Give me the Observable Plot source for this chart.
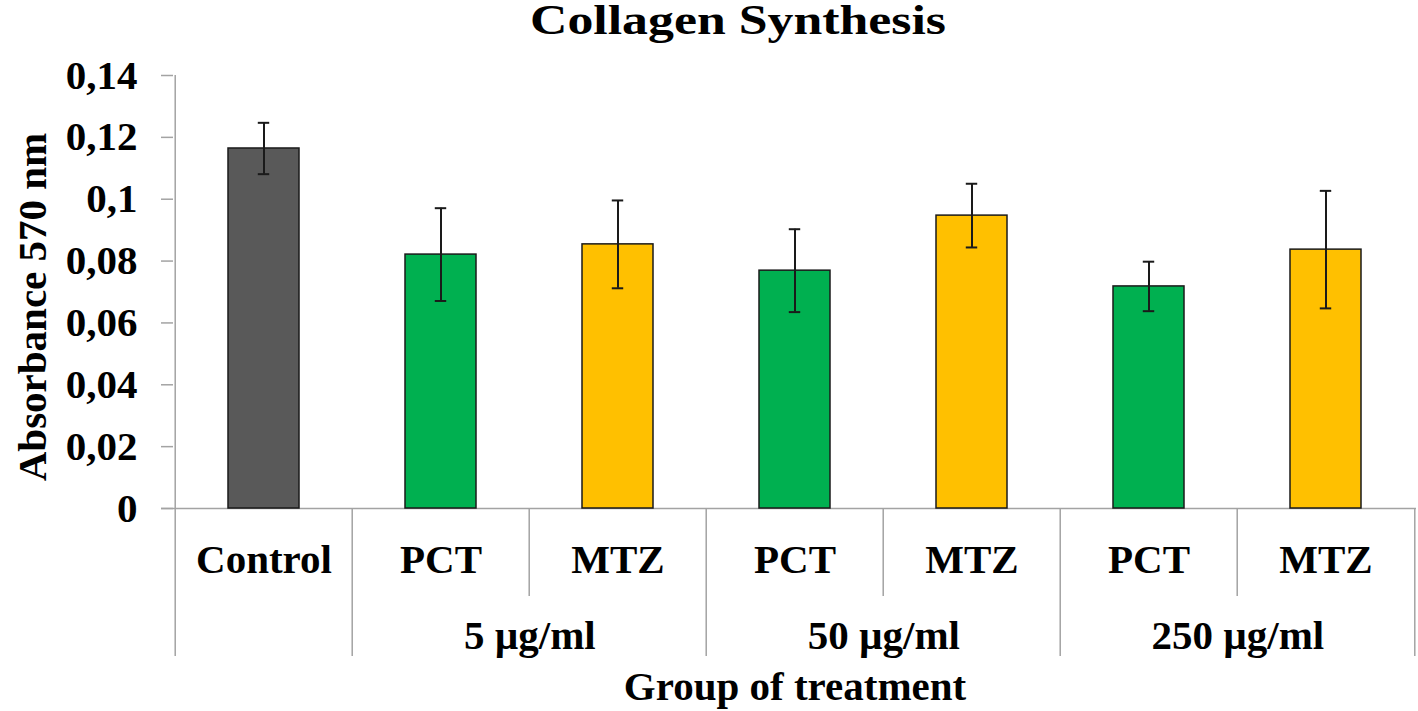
<!DOCTYPE html>
<html>
<head>
<meta charset="utf-8">
<script src="https://cdn.jsdelivr.net/npm/d3@7"></script>
<script src="https://cdn.jsdelivr.net/npm/@observablehq/plot@0.6"></script>
<style>
  html, body { margin: 0; padding: 0; background: #fff; }
  #chart svg { display: block; font-family: "Liberation Serif", "Times New Roman", serif; }
</style>
</head>
<body>
<div id="chart"></div>
<script>
// ---- data ----
const keys = ["Control", "PCT 5", "MTZ 5", "PCT 50", "MTZ 50", "PCT 250", "MTZ 250"];
const treatments = ["Control", "PCT", "MTZ", "PCT", "MTZ", "PCT", "MTZ"];
const doses = [null, "5 µg/ml", "5 µg/ml", "50 µg/ml", "50 µg/ml", "250 µg/ml", "250 µg/ml"];
const absorbance = [0.1164, 0.0821, 0.0854, 0.0769, 0.0947, 0.0718, 0.0837];
const errors = [0.0083, 0.0150, 0.0142, 0.0134, 0.0103, 0.0080, 0.0190];
const colors = ["#595959", "#00B050", "#FFC000", "#00B050", "#FFC000", "#00B050", "#FFC000"];
const doseGroups = ["5 µg/ml", "50 µg/ml", "250 µg/ml"];
const yTicks = [0, 0.02, 0.04, 0.06, 0.08, 0.1, 0.12, 0.14];
const title = "Collagen Synthesis";
const yLabel = "Absorbance 570 nm";
const xLabel = "Group of treatment";

const data = keys.map((k, i) => ({
  key: k, treatment: treatments[i], dose: doses[i],
  value: absorbance[i], err: errors[i], color: colors[i]
}));
// first key of each dose group (group label spans two bands)
const groups = doseGroups.map(g => ({label: g, first: keys[doses.indexOf(g)]}));
const label = Object.fromEntries(keys.map((k, i) => [k, treatments[i]]));

// ---- layout ----
const W = 1418, H = 711;
const mL = 173, mR = 2, mT = 75, mB = 203;
const bw = (W - mL - mR) / keys.length;
const gray = "#a3a3a3";
const font = 41;

const fmt = d => String(+d.toFixed(2)).replace(".", ",");

const fullSeps = ["PCT 5", "PCT 50", "PCT 250"];
const shortSeps = ["MTZ 5", "MTZ 50", "MTZ 250"];

const plot = Plot.plot({
  width: W, height: H,
  marginLeft: mL, marginRight: mR, marginTop: mT, marginBottom: mB,
  style: {fontFamily: "'Liberation Serif', 'Times New Roman', serif", background: "#fff", overflow: "visible"},
  x: {type: "band", domain: keys, padding: 0, axis: null},
  y: {domain: [0, 0.14], axis: null},
  marks: [
    // y axis ticks + labels
    Plot.axisY({ticks: yTicks, tickSize: 12, tickPadding: 24, tickFormat: fmt,
      stroke: gray, strokeWidth: 1.5, fill: "black", fontSize: font, fontWeight: "bold", label: null}),
    // left axis line extended below
    Plot.ruleX(["Control"], {dx: -bw / 2, stroke: gray, strokeWidth: 1.5, insetBottom: -148}),
    // baseline
    Plot.ruleY([0], {stroke: gray, strokeWidth: 1.5, insetLeft: -12}),
    // category separators
    Plot.ruleX(fullSeps, {dx: -bw / 2, y1: 0, y2: 0, insetBottom: -148, stroke: gray, strokeWidth: 1.5}),
    Plot.ruleX(["MTZ 250"], {dx: bw / 2, y1: 0, y2: 0, insetBottom: -148, stroke: gray, strokeWidth: 1.5}),
    Plot.ruleX(shortSeps, {dx: -bw / 2, y1: 0, y2: 0, insetBottom: -88, stroke: gray, strokeWidth: 1.5}),
    // bars
    Plot.barY(data, {x: "key", y: "value", fill: "color", stroke: "#1a1a1a", strokeWidth: 1.5,
      insetLeft: 53, insetRight: 53}),
    // error bars
    Plot.ruleX(data, {x: "key", y1: d => d.value - d.err, y2: d => d.value + d.err, stroke: "#1a1a1a", strokeWidth: 2}),
    Plot.tickY(data, {x: "key", y: d => d.value + d.err, stroke: "#1a1a1a", strokeWidth: 2,
      insetLeft: bw / 2 - 6, insetRight: bw / 2 - 6}),
    Plot.tickY(data, {x: "key", y: d => d.value - d.err, stroke: "#1a1a1a", strokeWidth: 2,
      insetLeft: bw / 2 - 6, insetRight: bw / 2 - 6}),
    // category labels
    Plot.text(data, {x: "key", y: 0, text: d => label[d.key], dy: 51, fontSize: font, fontWeight: "bold",
      fill: "black", lineAnchor: "middle"}),
    // dose group labels
    Plot.text(groups, {x: "first", y: 0, text: "label", dx: bw / 2, dy: 127, fontSize: font, fontWeight: "bold",
      fill: "black", lineAnchor: "middle"}),
    // x axis title
    Plot.text([xLabel], {frameAnchor: "bottom", text: d => d, dy: 178, fontSize: font, fontWeight: "bold",
      fill: "black", lineAnchor: "middle"}),
    // y axis title
    Plot.text([yLabel], {frameAnchor: "left", text: d => d, dx: -141, dy: 15, rotate: -90, fontSize: font,
      fontWeight: "bold", fill: "black", lineAnchor: "middle", textAnchor: "middle"}),
    // chart title
    Plot.text([title], {frameAnchor: "top", text: d => d, dx: -57, dy: -55, fontSize: 42, fontWeight: "bold",
      fill: "black", lineAnchor: "middle", className: "chart-title"})
  ]
});

d3.select(plot).selectAll(".chart-title text")
  .attr("textLength", 416).attr("lengthAdjust", "spacingAndGlyphs");

document.getElementById("chart").appendChild(plot);
</script>
</body>
</html>
